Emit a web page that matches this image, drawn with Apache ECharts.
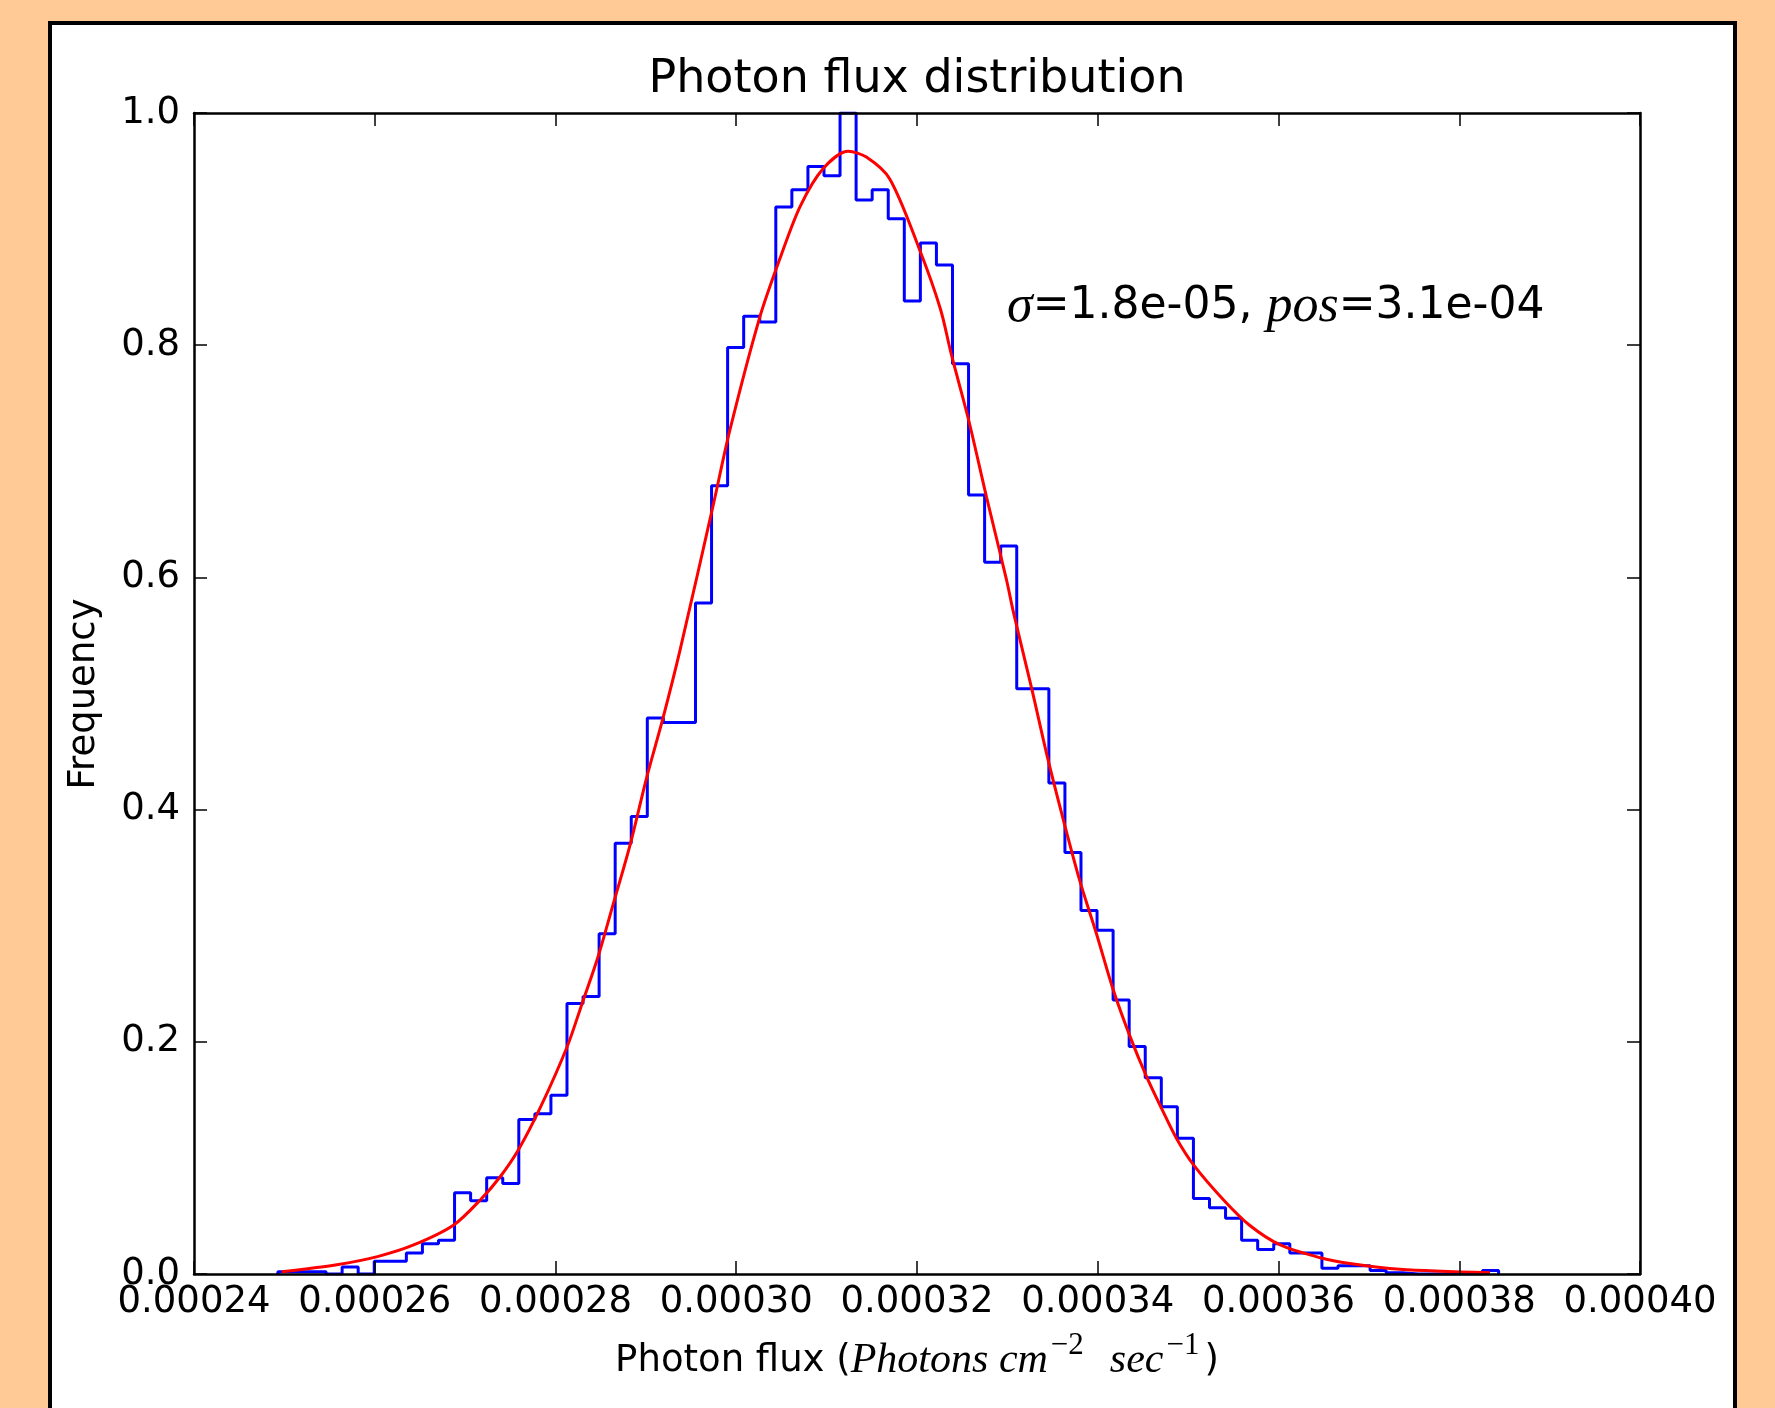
<!DOCTYPE html>
<html lang="en">
<head>
<meta charset="UTF-8">
<title>Photon flux distribution</title>
<script src="https://cdn.jsdelivr.net/npm/echarts@6/dist/echarts.min.js"></script>
<style>
    html, body { margin: 0; padding: 0; width: 1775px; height: 1408px; overflow: hidden; background: #ffca96; }
    .panel { position: absolute; left: 48px; top: 21px; width: 1689px; height: 1420px;
             background: #fff; border: 4px solid #000; box-sizing: border-box; }
    #main { position: absolute; left: 0; top: 0; width: 1775px; height: 1408px; }
</style>
</head>
<body>
<div class="panel"></div>
<div id="main"></div>
<script type="text/javascript">
    // histogram, equal width bins, heights scaled so the tallest bin = 1
    var binStart = 0.00024928;
    var binWidth = 0.0000017773;
    var freq = [0.002, 0.002, 0.002, 0.000, 0.006, 0.000, 0.011, 0.011, 0.018, 0.026,
                0.029, 0.070, 0.063, 0.083, 0.078, 0.133, 0.138, 0.154, 0.233, 0.239,
                0.293, 0.371, 0.394, 0.479, 0.475, 0.475, 0.578, 0.679, 0.798, 0.825,
                0.820, 0.919, 0.934, 0.954, 0.946, 1.000, 0.925, 0.934, 0.909, 0.838,
                0.888, 0.869, 0.784, 0.671, 0.613, 0.627, 0.504, 0.504, 0.423, 0.363,
                0.313, 0.296, 0.236, 0.196, 0.169, 0.144, 0.117, 0.065, 0.057, 0.048,
                0.029, 0.021, 0.026, 0.018, 0.018, 0.005, 0.007, 0.007, 0.003, 0.001,
                0.000, 0.000, 0.000, 0.000, 0.000, 0.003];

    // gaussian fit, points
    var fitX = [0.0002497, 0.0002558, 0.0002603, 0.0002643, 0.0002687, 0.0002717, 0.0002739,
                0.0002759, 0.0002783, 0.0002813, 0.0002829, 0.0002847, 0.0002864, 0.0002883,
                0.0002901, 0.0002919, 0.0002938, 0.0002975, 0.0002993, 0.0003026, 0.0003049,
                0.0003071, 0.0003096, 0.0003124, 0.0003144, 0.0003170, 0.0003203, 0.0003226,
                0.0003238, 0.0003257, 0.0003277, 0.0003299, 0.0003307, 0.0003327, 0.0003345,
                0.0003364, 0.0003380, 0.0003399, 0.0003417, 0.0003436, 0.0003454, 0.0003471,
                0.0003487, 0.0003506, 0.0003539, 0.0003568, 0.0003602, 0.0003646, 0.0003679,
                0.0003734, 0.0003834];
    var fitY = [0.002, 0.008, 0.015, 0.025, 0.042, 0.064, 0.084,
                0.107, 0.143, 0.196, 0.232, 0.273, 0.319, 0.371,
                0.428, 0.479, 0.538, 0.664, 0.727, 0.824, 0.876,
                0.920, 0.952, 0.967, 0.962, 0.943, 0.882, 0.831,
                0.792, 0.736, 0.669, 0.598, 0.569, 0.504, 0.443,
                0.385, 0.339, 0.292, 0.245, 0.204, 0.170, 0.142,
                0.117, 0.094, 0.064, 0.042, 0.025, 0.014, 0.009,
                0.004, 0.001];

    var xMin = 0.00024, xMax = 0.00040, xStep = 0.00002;
    var yMin = 0, yMax = 1.0, yStep = 0.2;

    // outline of the step histogram
    var stepData = [[binStart, 0]];
    for (var i = 0; i < freq.length; i++) {
        stepData.push([binStart + i * binWidth, freq[i]]);
    }
    var binEnd = binStart + freq.length * binWidth;
    stepData.push([binEnd, freq[freq.length - 1]]);
    stepData.push([binEnd, 0]);

    var fitData = fitX.map(function (x, i) { return [x, fitY[i]]; });

    var font = 'DejaVu Sans';
    var mathFont = 'Liberation Serif';

    var tick = { show: true, inside: true, length: 13, lineStyle: { color: '#000', width: 1.5 } };
    var spine = { show: true, onZero: false, lineStyle: { color: '#000', width: 2.5 } };

    var myChart = echarts.init(document.getElementById('main'));
    var option = {
        animation: false,
        grid: { left: 194, right: 135, top: 113, bottom: 134, containLabel: false },
        xAxis: [{
            type: 'value', position: 'bottom', min: xMin, max: xMax, interval: xStep, z: 5,
            axisLine: spine, axisTick: tick, splitLine: { show: false },
            axisLabel: {
                margin: 10, color: '#000', fontFamily: font, fontSize: 37,
                showMinLabel: true, showMaxLabel: true,
                formatter: function (v) { return v.toFixed(5); }
            }
        }, {
            type: 'value', position: 'top', min: xMin, max: xMax, interval: xStep, z: 5,
            axisLine: spine, axisTick: tick, splitLine: { show: false }, axisLabel: { show: false }
        }],
        yAxis: [{
            type: 'value', position: 'left', min: yMin, max: yMax, interval: yStep, z: 5,
            axisLine: spine, axisTick: tick, splitLine: { show: false },
            axisLabel: {
                margin: 14, color: '#000', fontFamily: font, fontSize: 37,
                showMinLabel: true, showMaxLabel: true,
                formatter: function (v) { return v.toFixed(1); }
            }
        }, {
            type: 'value', position: 'right', min: yMin, max: yMax, interval: yStep, z: 5,
            axisLine: spine, axisTick: tick, splitLine: { show: false }, axisLabel: { show: false }
        }],
        series: [{
            name: 'histogram', type: 'line', step: 'end', data: stepData,
            xAxisIndex: 0, yAxisIndex: 0, showSymbol: false, symbol: 'none',
            lineStyle: { color: '#0000ff', width: 3 }, z: 2
        }, {
            name: 'fit', type: 'line', smooth: 0.3, data: fitData,
            xAxisIndex: 0, yAxisIndex: 0, showSymbol: false, symbol: 'none',
            lineStyle: { color: '#ff0000', width: 3 }, z: 3
        }],
        graphic: [{
            type: 'text', x: 917, y: 80,
            style: { text: 'Photon flux distribution', fontFamily: font, fontSize: 46,
                     fill: '#000', align: 'center', verticalAlign: 'middle' }
        }, {
            type: 'text', x: 84, y: 694, rotation: Math.PI / 2,
            style: { text: 'Frequency', fontFamily: font, fontSize: 37,
                     fill: '#000', align: 'center', verticalAlign: 'middle' }
        }, {
            type: 'text', x: 917, y: 1361,
            style: {
                text: '{n|Photon flux (}{i|Photons cm}{s|\u22122}{i|  sec}{s|\u22121}{n|)}',
                align: 'center', verticalAlign: 'middle', fill: '#000',
                rich: {
                    n: { fontFamily: font, fontSize: 37, fill: '#000' },
                    i: { fontFamily: mathFont, fontStyle: 'italic', fontSize: 42, fill: '#000' },
                    s: { fontFamily: mathFont, fontSize: 31, fill: '#000', padding: [0, 5, 30, 3] }
                }
            }
        }, {
            type: 'text', x: 1007, y: 307,
            style: {
                text: '{i|\u03c3}{n|=1.8e-05, }{i|pos}{n|=3.1e-04}',
                align: 'left', verticalAlign: 'middle', fill: '#000',
                rich: {
                    n: { fontFamily: font, fontSize: 44, fill: '#000' },
                    i: { fontFamily: mathFont, fontStyle: 'italic', fontSize: 52, fill: '#000' }
                }
            }
        }]
    };
    myChart.setOption(option);
</script>
</body>
</html>
